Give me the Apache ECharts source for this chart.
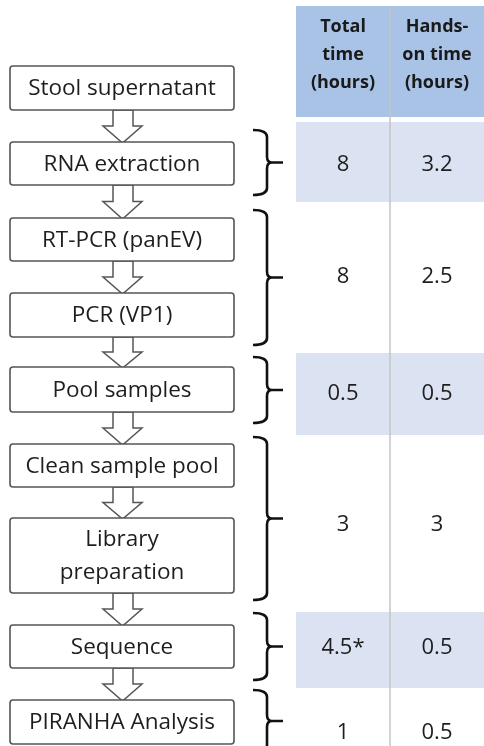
<!DOCTYPE html>
<html><head><meta charset="utf-8">
<script src="https://cdn.jsdelivr.net/npm/echarts@6/dist/echarts.min.js"></script>
<style>html,body{margin:0;padding:0;background:#fff}#c{width:484px;height:746px}</style>
</head><body><div id="c"></div>
<script>
// ---- data ----
const steps = ['Stool supernatant','RNA extraction','RT-PCR (panEV)','PCR (VP1)','Pool samples','Clean sample pool','Library\npreparation','Sequence','PIRANHA Analysis'];
const headers = ['Total\ntime\n(hours)','Hands-\non time\n(hours)'];
const stageSteps = [[1,1],[2,3],[4,4],[5,6],[7,7],[8,8]];
const totalTime = [8, 8, 0.5, 3, 4.5, 1];
const totalNotes = ['', '', '', '', '*', ''];
const handsOnTime = [3.2, 2.5, 0.5, 3, 0.5, 0.5];

// ---- layout (pixel-like units on hidden axes) ----
const W = 484, H = 746;
const boxX = [10, 234];
const boxSpan = [[66,110],[142,185],[218,261],[293,337],[367,412],[444,487],[518,593],[625,668],[700,744]];
const braceSpan = [[130,195],[210,345],[357,423],[437,600],[613,680],[690,752]];
const headerSpan = [6,117];
const rowSpan = [[122,202],[202,353],[353,435],[435,612],[612,688],[688,746]];
const rowTextY = [165,277,394,525,648,733];
const colX = [[296,390],[390,484]];
const shaded = [true,false,true,false,true,false];

const FONT = '"Open Sans", Lato, sans-serif';
const C_LINE = '#555555';

function pt(api, x, y){ return api.coord([x, y]); }

const chart = echarts.init(document.getElementById('c'), null, {renderer:'canvas'});

const idx = a => a.map((_, i) => [i, 0]);

chart.setOption({
  animation: false,
  grid: {left:0, right:0, top:0, bottom:0},
  xAxis: {type:'value', min:0, max:W, show:false},
  yAxis: {type:'value', min:0, max:H, inverse:true, show:false},
  series: [
    // table backgrounds
    {
      type:'custom', silent:true, z:1, data: idx(rowSpan.concat([headerSpan])),
      renderItem(params, api){
        const i = params.dataIndex;
        const isHeader = i === rowSpan.length;
        const span = isHeader ? headerSpan : rowSpan[i];
        if (!isHeader && !shaded[i]) return {type:'group', children:[]};
        const p0 = pt(api, colX[0][0], span[0]), p1 = pt(api, colX[1][1], span[1]);
        return {type:'rect', shape:{x:p0[0], y:p0[1], width:p1[0]-p0[0], height:p1[1]-p0[1]},
          style:{fill: isHeader ? '#a9c3e7' : '#dbe2f2'}};
      }
    },
    // column divider
    {
      type:'custom', silent:true, z:2, data: [[0,0]],
      renderItem(params, api){
        const a = pt(api, colX[0][1], headerSpan[0]), b = pt(api, colX[0][1], H);
        return {type:'line', shape:{x1:a[0], y1:a[1], x2:b[0], y2:b[1]}, style:{stroke:'#c4c4c4', lineWidth:1.5}};
      }
    },
    // header text
    {
      type:'custom', silent:true, z:3, data: idx(headers),
      renderItem(params, api){
        const i = params.dataIndex;
        const c = pt(api, (colX[i][0]+colX[i][1])/2, (headerSpan[0]+headerSpan[1])/2 - 7);
        return {type:'text', style:{text: headers[i], x:c[0], y:c[1], align:'center', verticalAlign:'middle',
          fontFamily:FONT, fontWeight:'bold', fontSize:18, lineHeight:28, fill:'#1a1a1a'}};
      }
    },
    // value text
    {
      type:'custom', silent:true, z:3, data: idx(totalTime),
      renderItem(params, api){
        const i = params.dataIndex;
        const vals = [String(totalTime[i]) + totalNotes[i], String(handsOnTime[i])];
        return {type:'group', children: vals.map((v, k) => {
          const c = pt(api, (colX[k][0]+colX[k][1])/2, rowTextY[i]);
          return {type:'text', style:{text:v, x:c[0], y:c[1], align:'center', verticalAlign:'middle',
            fontFamily:FONT, fontSize:22, fill:'#1e1e1e'}};
        })};
      }
    },
    // arrows
    {
      type:'custom', silent:true, z:4, data: idx(steps.slice(1)),
      renderItem(params, api){
        const i = params.dataIndex;
        const y0 = boxSpan[i][1], y1 = boxSpan[i+1][0];
        const yh = y0 + (y1 - y0) * 0.5;
        const P = [[113,y0],[133,y0],[133,yh],[142,yh],[122.5,y1+1],[103,yh],[113,yh]].map(p => pt(api, p[0], p[1]));
        return {type:'polygon', shape:{points:P}, style:{fill:'#fff', stroke:C_LINE, lineWidth:1.5}};
      }
    },
    // boxes
    {
      type:'custom', silent:true, z:5, data: idx(steps),
      renderItem(params, api){
        const i = params.dataIndex;
        const p0 = pt(api, boxX[0], boxSpan[i][0]), p1 = pt(api, boxX[1], boxSpan[i][1]);
        const c = pt(api, (boxX[0]+boxX[1])/2, (boxSpan[i][0]+boxSpan[i][1])/2 + 1);
        return {type:'group', children:[
          {type:'rect', shape:{x:p0[0], y:p0[1], width:p1[0]-p0[0], height:p1[1]-p0[1], r:3},
            style:{fill:'#fff', stroke:C_LINE, lineWidth:1.6}},
          {type:'text', style:{text:steps[i], x:c[0], y:c[1], align:'center', verticalAlign:'middle',
            fontFamily:FONT, fontSize:22.5, lineHeight:33, fill:'#1e1e1e'}}
        ]};
      }
    },
    // braces
    {
      type:'custom', silent:true, z:5, data: idx(stageSteps),
      renderItem(params, api){
        const i = params.dataIndex;
        const top = braceSpan[i][0], bot = braceSpan[i][1], mid = (top+bot)/2;
        const L = 253, S = 267, T = 283, r = 7;
        const q = (x, y) => pt(api, x, y).join(' ');
        const d = 'M' + q(L, top) + ' Q' + q(S, top) + ' ' + q(S, top + r) +
          ' L' + q(S, mid - 6) + ' Q' + q(S, mid) + ' ' + q(S + 5, mid) + ' L' + q(T, mid) +
          ' M' + q(S + 5, mid) + ' Q' + q(S, mid) + ' ' + q(S, mid + 6) +
          ' L' + q(S, bot - r) + ' Q' + q(S, bot) + ' ' + q(L, bot);
        return {type:'path', shape:{pathData:d}, style:{fill:null, stroke:'#111', lineWidth:2.6}};
      }
    }
  ]
});
</script></body></html>
